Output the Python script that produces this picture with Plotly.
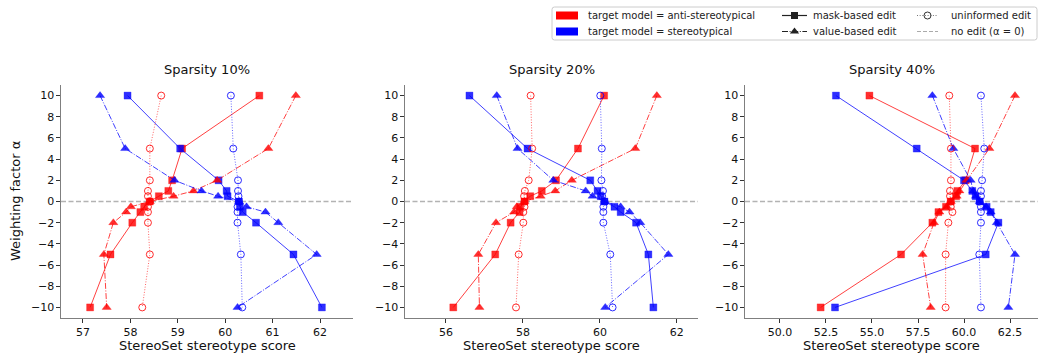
import plotly.graph_objects as go

W, H = 1043, 357

ALPHA = [10, 5, 2, 1, 0.5, 0, -0.5, -1, -2, -5, -10]

TITLES = ["Sparsity 10%", "Sparsity 20%", "Sparsity 40%"]

# Sparsity 10%
s10_anti_mask = [60.72, 59.09, 58.88, 58.80, 58.60, 58.41, 58.29, 58.21, 58.04, 57.58, 57.15]
s10_anti_value = [61.49, 60.91, 59.83, 59.33, 58.91, 58.41, 58.01, 57.91, 57.64, 57.44, 57.50]
s10_anti_unif = [58.65, 58.41, 58.41, 58.37, 58.37, 58.41, 58.37, 58.37, 58.37, 58.41, 58.25]
s10_stereo_mask = [57.94, 59.05, 59.86, 60.03, 60.05, 60.29, 60.31, 60.37, 60.65, 61.44, 62.04]
s10_stereo_value = [57.36, 57.89, 58.93, 59.50, 59.85, 60.29, 60.45, 60.85, 61.12, 61.93, 60.26]
s10_stereo_unif = [60.12, 60.17, 60.27, 60.27, 60.28, 60.29, 60.26, 60.26, 60.26, 60.33, 60.36]

# Sparsity 20%
s20_anti_mask = [60.11, 59.43, 58.86, 58.49, 58.19, 58.04, 57.93, 57.91, 57.68, 57.28, 56.19]
s20_anti_value = [61.48, 60.92, 59.27, 58.84, 58.46, 58.04, 57.84, 57.77, 57.30, 56.84, 56.87]
s20_anti_unif = [58.20, 58.24, 58.15, 58.05, 58.03, 58.04, 58.04, 58.01, 58.01, 57.89, 57.82]
s20_stereo_mask = [56.61, 58.12, 59.75, 59.94, 60.02, 60.12, 60.38, 60.54, 60.94, 61.26, 61.39]
s20_stereo_value = [57.32, 57.86, 58.79, 59.63, 59.81, 60.12, 60.54, 60.77, 61.05, 61.78, 60.14]
s20_stereo_unif = [60.01, 60.05, 60.04, 60.08, 60.06, 60.12, 60.09, 60.09, 60.09, 60.27, 60.33]

# Sparsity 40%
s40_anti_mask = [54.86, 60.60, 60.09, 59.64, 59.57, 59.28, 59.02, 58.61, 58.28, 56.58, 52.21]
s40_anti_value = [62.77, 61.38, 60.14, 59.75, 59.60, 59.28, 59.06, 58.66, 58.37, 57.75, 58.19]
s40_anti_unif = [59.20, 59.29, 59.29, 59.24, 59.24, 59.28, 59.28, 59.37, 59.15, 59.00, 59.00]
s40_stereo_mask = [53.04, 57.43, 60.00, 60.45, 60.63, 60.85, 61.23, 61.45, 61.87, 61.18, 52.99]
s40_stereo_value = [58.28, 59.42, 60.36, 60.50, 60.65, 60.85, 61.20, 61.45, 61.78, 62.77, 62.41]
s40_stereo_unif = [60.92, 61.10, 60.98, 60.92, 60.92, 60.85, 60.92, 60.92, 60.92, 60.83, 60.92]

PANELS = [
    {"anti": {"mask": s10_anti_mask, "value": s10_anti_value, "unif": s10_anti_unif},
     "stereo": {"mask": s10_stereo_mask, "value": s10_stereo_value, "unif": s10_stereo_unif}},
    {"anti": {"mask": s20_anti_mask, "value": s20_anti_value, "unif": s20_anti_unif},
     "stereo": {"mask": s20_stereo_mask, "value": s20_stereo_value, "unif": s20_stereo_unif}},
    {"anti": {"mask": s40_anti_mask, "value": s40_anti_value, "unif": s40_anti_unif},
     "stereo": {"mask": s40_stereo_mask, "value": s40_stereo_value, "unif": s40_stereo_unif}},
]

X_TICKS = [[57, 58, 59, 60, 61, 62], [56, 58, 60, 62], [50.0, 52.5, 55.0, 57.5, 60.0, 62.5]]
X_TICKTEXT = [["57", "58", "59", "60", "61", "62"], ["56", "58", "60", "62"],
              ["50.0", "52.5", "55.0", "57.5", "60.0", "62.5"]]
X_RANGES = [[56.536, 62.696], [54.935, 62.55], [48.1, 64.02]]
Y_TICKS = [-10, -8, -6, -4, -2, 0, 2, 4, 6, 8, 10]
Y_TICKTEXT = ["−10", "−8", "−6", "−4", "−2", "0", "2", "4", "6", "8", "10"]

# layout geometry (pixels)
X_DOM_PX = [(61, 353), (405, 698), (745, 1038)]
Y_TOP_PX, Y_BOT_PX = 85, 318

COLORS = {"anti": (255, 0, 0), "stereo": (0, 0, 255)}
FONT = "DejaVu Sans"

STYLE = {
    "mask": dict(symbol="square", dash="solid", size=7),
    "value": dict(symbol="triangle-up", dash="6px,1.6px,1px,1.6px", size=8),
    "unif": dict(symbol="circle-open", dash="1px,1.65px", size=7),
}

fig = go.Figure()

for i, panel in enumerate(PANELS):
    xa = "x" if i == 0 else f"x{i+1}"
    ya = "y" if i == 0 else f"y{i+1}"
    for method in ["mask", "value", "unif"]:
        for target in ["anti", "stereo"]:
            r, g, b = COLORS[target]
            st = STYLE[method]
            line_alpha = 0.75 if method != "unif" else 0.6
            mk = dict(symbol=st["symbol"], size=st["size"],
                      color=f"rgba({r},{g},{b},0.82)")
            if method == "unif":
                mk["line"] = dict(color=f"rgba({r},{g},{b},0.8)", width=1)
            else:
                mk["line"] = dict(color=f"rgba({r},{g},{b},0.5)", width=0.6)
            fig.add_trace(go.Scatter(
                x=panel[target][method], y=ALPHA, xaxis=xa, yaxis=ya,
                mode="lines+markers",
                line=dict(color=f"rgba({r},{g},{b},{line_alpha})", width=1, dash=st["dash"]),
                marker=mk, showlegend=False, hoverinfo="skip"))

layout = dict(
    width=W, height=H, autosize=False,
    margin=dict(l=0, r=0, t=0, b=0),
    paper_bgcolor="white", plot_bgcolor="rgba(0,0,0,0)",
    font=dict(family=FONT, size=11, color="#000"),
    showlegend=False,
)

y_dom = [1 - Y_BOT_PX / H, 1 - Y_TOP_PX / H]
shapes = []
annotations = []
for i in range(3):
    sfx = "" if i == 0 else str(i + 1)
    x0, x1 = X_DOM_PX[i]
    layout[f"xaxis{sfx}"] = dict(
        domain=[x0 / W, x1 / W], range=X_RANGES[i], anchor=f"y{sfx}",
        tickvals=X_TICKS[i], ticktext=X_TICKTEXT[i],
        showgrid=False, zeroline=False, showline=True, linecolor="#7f7f7f", linewidth=1.2,
        ticks="outside", ticklen=3.5, tickwidth=1, tickcolor="#333",
        tickfont=dict(size=11, family=FONT, color="#111"))
    layout[f"yaxis{sfx}"] = dict(
        domain=y_dom, range=[-11, 11], anchor=f"x{sfx}",
        tickvals=Y_TICKS, ticktext=Y_TICKTEXT,
        showgrid=False, zeroline=False, showline=True, linecolor="#7f7f7f", linewidth=1.2,
        ticks="outside", ticklen=3.5, tickwidth=1, tickcolor="#333",
        tickfont=dict(size=11, family=FONT, color="#111"))
    # no-edit line at alpha = 0
    shapes.append(dict(type="line", xref=f"x{sfx} domain", yref=f"y{sfx}",
                       x0=0, x1=1, y0=0, y1=0, layer="below",
                       line=dict(color="rgba(128,128,128,0.6)", width=1.4, dash="5px,2.5px")))
    cx = (x0 + x1) / 2 / W
    annotations.append(dict(text=TITLES[i], xref="paper", yref="paper", x=cx, y=1 - 70 / H,
                            showarrow=False, xanchor="center", yanchor="middle",
                            font=dict(size=13, family=FONT, color="#111")))
    annotations.append(dict(text="StereoSet stereotype score", xref="paper", yref="paper",
                            x=cx, y=1 - 345 / H, showarrow=False, xanchor="center",
                            yanchor="middle", font=dict(size=13, family=FONT, color="#111")))

annotations.append(dict(text="Weighting factor α", xref="paper", yref="paper",
                        x=15 / W, y=1 - 201 / H, textangle=-90, showarrow=False,
                        xanchor="center", yanchor="middle",
                        font=dict(size=13, family=FONT, color="#111")))

# overlay pixel axis for the legend
layout["xaxis4"] = dict(domain=[0, 1], range=[0, W], anchor="y4", visible=False, fixedrange=True)
layout["yaxis4"] = dict(domain=[0, 1], range=[H, 0], anchor="x4", visible=False, fixedrange=True)

# legend box (rounded)
bx0, by0, bx1, by1, rr = 552, 7, 1037, 40, 2.5
path = (f"M {bx0+rr},{by0} L {bx1-rr},{by0} Q {bx1},{by0} {bx1},{by0+rr} "
        f"L {bx1},{by1-rr} Q {bx1},{by1} {bx1-rr},{by1} L {bx0+rr},{by1} "
        f"Q {bx0},{by1} {bx0},{by1-rr} L {bx0},{by0+rr} Q {bx0},{by0} {bx0+rr},{by0} Z")
shapes.append(dict(type="path", xref="x4", yref="y4", path=path, layer="below",
                   line=dict(color="#cccccc", width=1), fillcolor="rgba(255,255,255,0.8)"))

ROW_Y = [15.5, 31.5]
# color patches
shapes.append(dict(type="rect", xref="x4", yref="y4", x0=556, x1=578, y0=ROW_Y[0] - 4, y1=ROW_Y[0] + 4,
                   line=dict(width=0), fillcolor="#ff0000"))
shapes.append(dict(type="rect", xref="x4", yref="y4", x0=556, x1=578, y0=ROW_Y[1] - 4, y1=ROW_Y[1] + 4,
                   line=dict(width=0), fillcolor="#0000ff"))

LEGEND_TEXT = [
    ("target model = anti-stereotypical", 586, ROW_Y[0]),
    ("target model = stereotypical", 586, ROW_Y[1]),
    ("mask-based edit", 811, ROW_Y[0]),
    ("value-based edit", 811, ROW_Y[1]),
    ("uninformed edit", 949, ROW_Y[0]),
    ("no edit (α = 0)", 949, ROW_Y[1]),
]
for txt, lx, ly in LEGEND_TEXT:
    annotations.append(dict(text=txt, xref="x4", yref="y4", x=lx, y=ly, showarrow=False,
                            xanchor="left", yanchor="middle",
                            font=dict(size=10, family=FONT, color="#222")))

def legend_sample(x0, x1, y, dash, color, symbol=None, size=7, mcolor=None, mline=None):
    fig.add_trace(go.Scatter(x=[x0, x1], y=[y, y], xaxis="x4", yaxis="y4", mode="lines",
                             line=dict(color=color, width=1.2, dash=dash),
                             showlegend=False, hoverinfo="skip"))
    if symbol:
        mk = dict(symbol=symbol, size=size, color=mcolor)
        if mline:
            mk["line"] = mline
        fig.add_trace(go.Scatter(x=[(x0 + x1) / 2], y=[y], xaxis="x4", yaxis="y4", mode="markers",
                                 marker=mk, showlegend=False, hoverinfo="skip"))

legend_sample(782, 807, ROW_Y[0], "solid", "#222", "square", 7, "#222")
legend_sample(782, 807, ROW_Y[1], "6px,1.6px,1px,1.6px", "#222", "triangle-up", 8, "#222")
legend_sample(917, 938, ROW_Y[0], "1px,1.65px", "#777", "circle-open", 7, "#333",
              dict(color="#333", width=1))
legend_sample(917, 938, ROW_Y[1], "4px,2px", "#aaa")

layout["shapes"] = shapes
layout["annotations"] = annotations
fig.update_layout(**layout)

fig.write_html("out.html")
